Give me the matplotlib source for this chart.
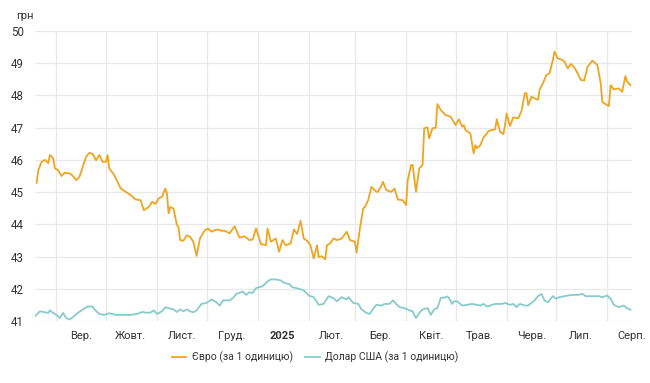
import numpy as np
import matplotlib
matplotlib.use("Agg")
import matplotlib.pyplot as plt
import matplotlib.dates as mdates
import datetime as dt

plt.rcParams['font.family'] = ['Roboto', 'DejaVu Sans']

start_date = dt.date(2024, 8, 19)
end_date = dt.date(2025, 8, 16)

eur_days = [1, 2, 4, 6, 8, 9, 11, 12, 14, 16, 18, 21, 23, 25, 27, 29, 31, 33, 35, 37, 39, 41, 43, 44,
            45, 48, 50, 52, 55, 58, 61, 64, 66, 69, 71, 73, 75, 77, 79, 80, 81, 82, 84, 86, 87, 88,
            90, 92, 94, 96, 98, 100, 103, 105, 107, 109, 111, 113, 115, 118, 121, 124, 127, 130,
            132, 134, 137, 140, 141, 143, 146, 148, 150, 152, 155, 157, 159, 161, 163, 165, 167,
            169, 171, 172, 174, 176, 177, 179, 181, 183, 186, 189, 191, 194, 195, 197, 199, 200,
            202, 204, 207, 208, 210, 211, 213, 216, 218, 220, 223, 225, 226, 228, 229, 231, 233,
            235, 236, 238, 239, 241, 243, 244, 246, 249, 252, 255, 257, 259, 260, 261, 264, 266,
            267, 268, 270, 272, 274, 275, 279, 280, 282, 284, 285, 286, 288, 290, 293, 295, 297,
            298, 299, 301, 303, 305, 306, 308, 310, 312, 314, 315, 317, 319, 321, 323, 325, 327,
            329, 331, 333, 335, 338, 341, 343, 344, 346, 348, 349, 351, 354, 356, 358, 359, 361]
eur_values = [45.29, 45.68, 45.94, 46.00, 45.90, 46.15, 46.05, 45.74, 45.68, 45.50, 45.60, 45.58,
              45.50, 45.37, 45.48, 45.79, 46.10, 46.22, 46.18, 45.99, 46.15, 45.94, 45.94, 46.15,
              45.74, 45.53, 45.32, 45.11, 45.01, 44.91, 44.77, 44.75, 44.44, 44.54, 44.70, 44.63,
              44.80, 44.86, 45.11, 44.96, 44.34, 44.54, 44.49, 43.98, 43.92, 43.51, 43.49, 43.66,
              43.61, 43.46, 43.02, 43.56, 43.82, 43.87, 43.77, 43.82, 43.84, 43.80, 43.80, 43.72,
              43.94, 43.59, 43.63, 43.51, 43.53, 43.87, 43.39, 43.35, 43.87, 43.46, 43.56, 43.15,
              43.51, 43.35, 43.41, 43.84, 43.70, 44.11, 43.56, 43.49, 43.35, 42.94, 43.35, 42.99,
              43.01, 42.91, 43.35, 43.41, 43.56, 43.51, 43.56, 43.77, 43.51, 43.46, 43.12, 43.87,
              44.49, 44.54, 44.75, 45.16, 45.01, 45.01, 45.19, 45.32, 45.06, 45.01, 45.11, 44.77,
              44.75, 44.60, 45.37, 45.84, 45.84, 45.01, 45.74, 45.84, 46.98, 47.01, 46.67, 46.98,
              47.00, 47.73, 47.55, 47.39, 47.34, 47.08, 47.26, 47.03, 47.08, 46.93, 46.82, 46.20,
              46.46, 46.36, 46.46, 46.70, 46.82, 46.90, 46.95, 47.26, 46.87, 46.80, 47.08, 47.44,
              47.05, 47.32, 47.29, 47.52, 48.07, 48.07, 47.70, 47.96, 47.91, 47.86, 48.19, 48.38,
              48.63, 48.69, 49.10, 49.36, 49.15, 49.12, 49.05, 48.84, 48.98, 48.87, 48.69, 48.48,
              48.46, 48.89, 49.08, 48.94, 48.38, 47.80, 47.73, 47.67, 48.32, 48.19, 48.22, 48.11,
              48.60, 48.43, 48.32]

usd_days = [0, 3, 6, 8, 9, 11, 13, 15, 17, 19, 21, 23, 26, 29, 32, 35, 36, 39, 42, 45, 49, 53, 58,
            62, 65, 67, 70, 72, 74, 77, 79, 82, 84, 86, 88, 90, 92, 94, 96, 98, 101, 104, 107, 110,
            112, 114, 118, 120, 122, 125, 126, 128, 130, 132, 134, 136, 138, 141, 143, 146, 149,
            151, 154, 156, 160, 163, 166, 169, 172, 175, 178, 181, 183, 186, 187, 189, 190, 193,
            196, 198, 201, 203, 205, 207, 210, 212, 215, 217, 219, 221, 224, 227, 229, 231, 233,
            235, 238, 240, 242, 244, 246, 249, 250, 251, 253, 254, 256, 259, 262, 265, 268, 270,
            272, 274, 277, 279, 283, 285, 288, 290, 292, 294, 297, 299, 301, 303, 305, 307, 309,
            311, 314, 316, 318, 321, 323, 326, 329, 332, 334, 338, 342, 344, 347, 349, 351, 354,
            357, 359, 361]
usd_values = [41.15, 41.30, 41.27, 41.25, 41.33, 41.25, 41.19, 41.09, 41.25, 41.09, 41.05, 41.12,
              41.25, 41.36, 41.45, 41.45, 41.36, 41.22, 41.19, 41.24, 41.19, 41.19, 41.19, 41.22,
              41.28, 41.26, 41.26, 41.33, 41.22, 41.30, 41.43, 41.38, 41.36, 41.28, 41.36, 41.30,
              41.36, 41.30, 41.27, 41.33, 41.53, 41.56, 41.67, 41.58, 41.48, 41.64, 41.64, 41.71,
              41.84, 41.89, 41.91, 41.81, 41.89, 41.87, 42.02, 42.05, 42.08, 42.23, 42.29, 42.29,
              42.26, 42.18, 42.15, 42.05, 42.00, 41.95, 41.79, 41.74, 41.50, 41.53, 41.77, 41.71,
              41.61, 41.74, 41.71, 41.67, 41.74, 41.56, 41.53, 41.36, 41.25, 41.22, 41.38, 41.50,
              41.48, 41.53, 41.53, 41.64, 41.53, 41.43, 41.40, 41.33, 41.30, 41.09, 41.25, 41.36,
              41.40, 41.19, 41.36, 41.40, 41.71, 41.74, 41.76, 41.71, 41.53, 41.61, 41.61, 41.48,
              41.50, 41.53, 41.50, 41.48, 41.53, 41.45, 41.50, 41.53, 41.53, 41.56, 41.50, 41.53,
              41.43, 41.53, 41.48, 41.48, 41.56, 41.64, 41.77, 41.84, 41.64, 41.58, 41.77, 41.69,
              41.74, 41.77, 41.79, 41.81, 41.81, 41.84, 41.77, 41.77, 41.77, 41.74, 41.79, 41.69,
              41.50, 41.43, 41.48, 41.40, 41.35]

month_labels = ['Вер.', 'Жовт.', 'Лист.', 'Груд.', '2025', 'Лют.', 'Бер.', 'Квіт.', 'Трав.',
                'Черв.', 'Лип.', 'Серп.']
month_starts = [dt.date(2024, 9, 1), dt.date(2024, 10, 1), dt.date(2024, 11, 1), dt.date(2024, 12, 1),
                dt.date(2025, 1, 1), dt.date(2025, 2, 1), dt.date(2025, 3, 1), dt.date(2025, 4, 1),
                dt.date(2025, 5, 1), dt.date(2025, 6, 1), dt.date(2025, 7, 1), dt.date(2025, 8, 1)]
yticks = [41, 42, 43, 44, 45, 46, 47, 48, 49, 50]

series_names = ['Євро (за 1 одиницю)', 'Долар США (за 1 одиницю)']
eur_color = '#F0A521'
usd_color = '#88CBCB'

eur_dates = [start_date + dt.timedelta(days=d) for d in eur_days]
usd_dates = [start_date + dt.timedelta(days=d) for d in usd_days]

fig = plt.figure(figsize=(6.5, 3.83), dpi=100)
ax = fig.add_axes([35/650, 1-321/383, (632-35)/650, (321-31)/383])

ax.plot(eur_dates, eur_values, color=eur_color, lw=1.3, label=series_names[0], zorder=3)
ax.plot(usd_dates, usd_values, color=usd_color, lw=1.3, label=series_names[1], zorder=3)

ax.set_ylim(41, 50)
ax.set_xlim(start_date, end_date)
ax.set_yticks(yticks)
ax.set_yticklabels([str(v) for v in yticks], fontsize=8.3, color='#333333')

# gridlines at month starts, labels centered in each month
ax.set_xticks(month_starts)
ax.set_xticklabels([])
mids = []
for i, ms in enumerate(month_starts):
    nxt = month_starts[i+1] if i + 1 < len(month_starts) else dt.date(2025, 9, 1)
    mids.append(ms + (nxt - ms) / 2)
ax.set_xticks(mids, minor=True)
ax.set_xticklabels(month_labels, minor=True, fontsize=8, color='#333333')
for lbl in ax.get_xticklabels(minor=True):
    if lbl.get_text() == '2025':
        lbl.set_fontweight('bold')
ax.tick_params(axis='x', which='both', length=0, pad=7)
ax.tick_params(axis='y', length=0, pad=8)

ax.grid(True, which='major', color='#e8e8e8', lw=0.9, zorder=0)
for s in ax.spines.values():
    s.set_visible(False)

fig.text(25/650, 1-16/383, 'грн', fontsize=8, color='#333333', ha='center', va='center')

fig.legend(loc='center', bbox_to_anchor=(315/650, 1-357/383), ncol=2, frameon=False,
           fontsize=7.5, handlelength=1.4, columnspacing=1.2, handletextpad=0.5,
           labelcolor='#333333')

fig.savefig('out.png', dpi=100)
